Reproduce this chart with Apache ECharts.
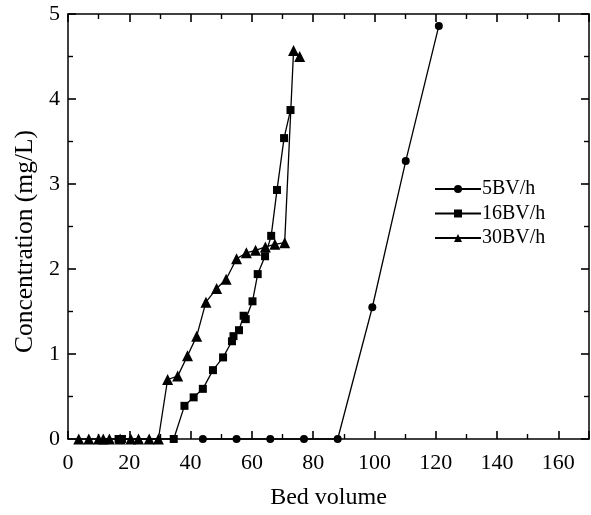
<!DOCTYPE html>
<html>
<head>
<meta charset="utf-8">
<script src="https://cdn.jsdelivr.net/npm/echarts@6/dist/echarts.min.js"></script>
<style>
  html, body { margin: 0; padding: 0; background: #fff; }
  #chart { width: 591px; height: 515px; }
</style>
</head>
<body>
<div id="chart"></div>
<script>
// Breakthrough curves: effluent concentration vs. bed volume at three flow rates
const seriesNames = ['5BV/h', '16BV/h', '30BV/h'];

const bv5 = [44, 55, 66, 77, 88, 99.3, 110.2, 121];
const conc5 = [0, 0, 0, 0, 0, 1.55, 3.27, 4.86];

const bv16 = [16.5, 17.6, 34.5, 38, 41, 44, 47.3, 50.6, 53.5, 54, 55.8, 57.3, 58, 60.2, 61.9, 64.3, 66.3, 68.2, 70.5, 72.6];
const conc16 = [0, 0, 0, 0.39, 0.49, 0.59, 0.81, 0.96, 1.15, 1.21, 1.28, 1.45, 1.41, 1.62, 1.94, 2.15, 2.39, 2.93, 3.54, 3.87];

const bv30 = [3.5, 6.8, 10, 11.5, 13.5, 17, 20.5, 23, 26.5, 29.5, 32.5, 35.8, 39, 42, 45, 48.5, 51.6, 55, 58.2, 61.2, 64.4, 67.5, 70.7, 73.6, 75.6];
const conc30 = [0, 0, 0, 0, 0, 0, 0, 0, 0, 0, 0.70, 0.74, 0.98, 1.21, 1.61, 1.77, 1.88, 2.12, 2.19, 2.22, 2.26, 2.29, 2.31, 4.57, 4.50];

const xTicks = { min: 0, max: 170, interval: 20 };
const yTicks = { min: 0, max: 5, interval: 1 };

const pair = (xs, ys) => xs.map((x, i) => [x, ys[i]]);

const font = '"Liberation Serif", "Times New Roman", serif';
const black = '#000';

// fresh tick/line settings for each side of the framed box
function frameAxis(extra) {
  return Object.assign({
    type: 'value',
    axisLine: { show: true, onZero: false, lineStyle: { color: black, width: 1.5 } },
    axisTick: { show: true, inside: true, length: 8, lineStyle: { color: black, width: 1.6 } },
    minorTick: { show: true, splitNumber: 2, length: 5, lineStyle: { color: black, width: 1.4 } },
    splitLine: { show: false },
    minorSplitLine: { show: false }
  }, extra);
}

const chart = echarts.init(document.getElementById('chart'), null, { renderer: 'canvas' });

const lineSeries = (name, data, symbol, size) => ({
  name: name,
  type: 'line',
  data: data,
  symbol: symbol,
  symbolSize: size,
  showSymbol: true,
  clip: false,
  xAxisIndex: 0,
  yAxisIndex: 0,
  z: 5,
  itemStyle: { color: black },
  lineStyle: { color: black, width: 1.3 },
  emphasis: { disabled: true },
  animation: false
});

chart.setOption({
  backgroundColor: '#fff',
  animation: false,
  grid: { left: 68, right: 2, top: 14, bottom: 73, containLabel: false },
  legend: {
    orient: 'vertical',
    left: 429,
    top: 174,
    itemWidth: 46,
    itemHeight: 10,
    itemGap: 4.5,
    textStyle: { fontFamily: font, fontSize: 20, color: black, padding: [0, 0, 0, -4] },
    data: seriesNames
  },
  xAxis: [
    frameAxis({
      min: xTicks.min, max: xTicks.max, interval: xTicks.interval,
      position: 'bottom',
      name: 'Bed volume', nameLocation: 'middle', nameGap: 47,
      nameTextStyle: { fontFamily: font, fontSize: 24, color: black },
      axisLabel: { fontFamily: font, fontSize: 22, color: black, margin: 13, showMaxLabel: false }
    }),
    frameAxis({
      min: xTicks.min, max: xTicks.max, interval: xTicks.interval,
      position: 'top',
      axisLabel: { show: false }
    })
  ],
  yAxis: [
    frameAxis({
      min: yTicks.min, max: yTicks.max, interval: yTicks.interval,
      position: 'left',
      name: 'Concentration (mg/L)', nameLocation: 'middle', nameGap: 30,
      nameTextStyle: { fontFamily: font, fontSize: 25.5, color: black, padding: [0, 30, 0, 0] },
      axisLabel: { fontFamily: font, fontSize: 22, color: black, margin: 8 }
    }),
    frameAxis({
      min: yTicks.min, max: yTicks.max, interval: yTicks.interval,
      position: 'right',
      axisLabel: { show: false }
    })
  ],
  series: [
    lineSeries(seriesNames[0], pair(bv5, conc5), 'circle', 8),
    lineSeries(seriesNames[1], pair(bv16, conc16), 'rect', 8),
    lineSeries(seriesNames[2], pair(bv30, conc30), 'triangle', 11)
  ]
});
</script>
</body>
</html>
